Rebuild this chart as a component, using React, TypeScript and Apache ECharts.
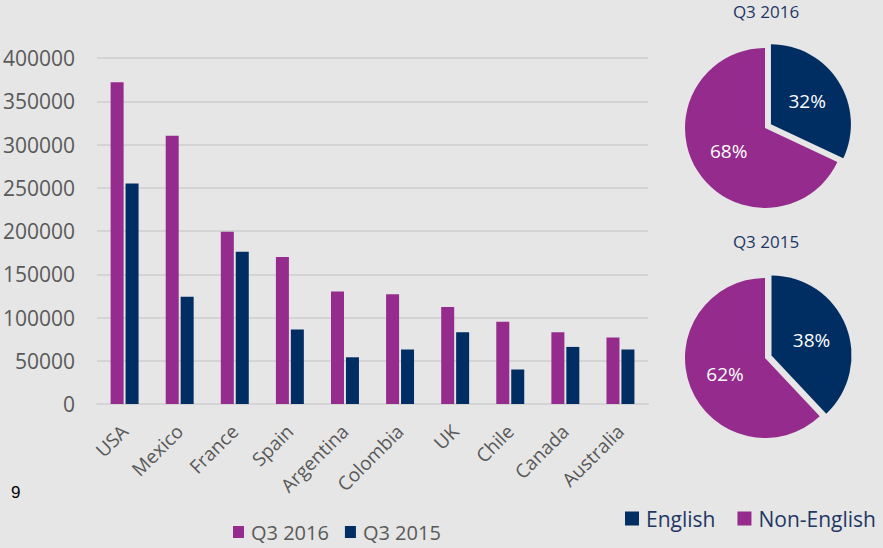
import React, { useEffect, useRef } from "react";
import * as echarts from "echarts";

const categories = ["USA", "Mexico", "France", "Spain", "Argentina", "Colombia", "UK", "Chile", "Canada", "Australia"];
const q3_2016 = [372000, 310000, 199000, 170000, 130000, 127000, 112000, 95000, 83000, 77000];
const q3_2015 = [255000, 124000, 176000, 86000, 54000, 63000, 83000, 40000, 66000, 63000];
const yTicks = { min: 0, max: 400000, interval: 50000 };
const pieNames = ["English", "Non-English"];
const pie2016 = [32, 68];
const pie2015 = [38, 62];
const pieTitles = ["Q3 2016", "Q3 2015"];
const pageNumber = "9";

const PURPLE = "#952B8D";
const NAVY = "#002D62";
const NAVY_TEXT = "#1F3864";
const GRAY_TEXT = "#595959";
const FONT = "Open Sans";

export default function App() {
  const ref = useRef<HTMLDivElement>(null);
  useEffect(() => {
    if (!ref.current) return;
    const chart = echarts.init(ref.current, undefined, { renderer: "svg" });
    const pieData = (vals: number[]) =>
      pieNames.map((n, i) => ({
        name: n,
        value: vals[i],
        selected: i === 0,
        itemStyle: { color: i === 0 ? NAVY : PURPLE },
      }));
    const pieSeries = (vals: number[], cy: number) => ({
      type: "pie",
      center: [765, cy],
      radius: 80,
      startAngle: 90,
      clockwise: true,
      selectedMode: "single",
      selectedOffset: 7,
      silent: true,
      label: {
        show: true,
        position: "inner",
        formatter: "{c}%",
        color: "#ffffff",
        fontSize: 19,
        fontFamily: FONT,
      },
      labelLine: { show: false },
      emphasis: { disabled: true },
      data: pieData(vals),
    });
    chart.setOption({
      animation: false,
      backgroundColor: "#E6E6E6",
      textStyle: { fontFamily: FONT },
      legend: [
        {
          data: ["Q3 2016", "Q3 2015"],
          left: 233,
          top: 522,
          padding: 0,
          icon: "rect",
          itemWidth: 11,
          itemHeight: 12,
          itemGap: 16,
          selectedMode: false,
          textStyle: { color: GRAY_TEXT, fontSize: 20, fontFamily: FONT, padding: [0, 0, 0, 2] },
        },
        {
          data: pieNames,
          left: 625,
          top: 508,
          width: 330,
          padding: 0,
          icon: "rect",
          itemWidth: 14,
          itemHeight: 14,
          itemGap: 22,
          selectedMode: false,
          textStyle: { color: NAVY_TEXT, fontSize: 21, fontFamily: FONT, padding: [0, 0, 0, 2] },
        },
      ],
      grid: { left: 95, right: 235, top: 58, bottom: 144, containLabel: false },
      xAxis: {
        type: "category",
        data: categories,
        axisLine: { show: true, lineStyle: { color: "#D4D4D4", width: 2 } },
        axisTick: { show: false },
        axisLabel: { rotate: 45, margin: 24, fontSize: 19, color: GRAY_TEXT, fontFamily: FONT, interval: 0 },
      },
      yAxis: {
        type: "value",
        min: yTicks.min,
        max: yTicks.max,
        interval: yTicks.interval,
        axisLine: { show: false },
        axisTick: { show: false },
        splitLine: { lineStyle: { color: "#D4D4D4", width: 2 } },
        axisLabel: { margin: 22, fontSize: 21, color: GRAY_TEXT, fontFamily: FONT, formatter: (v: number) => String(v) },
      },
      series: [
        { name: "Q3 2016", type: "bar", data: q3_2016, barWidth: 13, barGap: "15%", itemStyle: { color: PURPLE }, silent: true },
        { name: "Q3 2015", type: "bar", data: q3_2015, barWidth: 13, barGap: "15%", itemStyle: { color: NAVY }, silent: true },
        pieSeries(pie2016, 128),
        pieSeries(pie2015, 358),
      ],
      graphic: [
        { type: "text", x: 766, y: 11, style: { text: pieTitles[0], fontSize: 17, fontFamily: FONT, fill: NAVY_TEXT, align: "center", verticalAlign: "middle" } },
        { type: "text", x: 766, y: 241, style: { text: pieTitles[1], fontSize: 17, fontFamily: FONT, fill: NAVY_TEXT, align: "center", verticalAlign: "middle" } },
        { type: "text", left: 11, top: 484, style: { text: pageNumber, fontSize: 17, fontFamily: "Liberation Sans", fill: "#000000" } },
      ],
    });
    return () => chart.dispose();
  }, []);
  return <div ref={ref} style={{ position: "fixed", left: 0, top: 0, width: 883, height: 548 }} />;
}
